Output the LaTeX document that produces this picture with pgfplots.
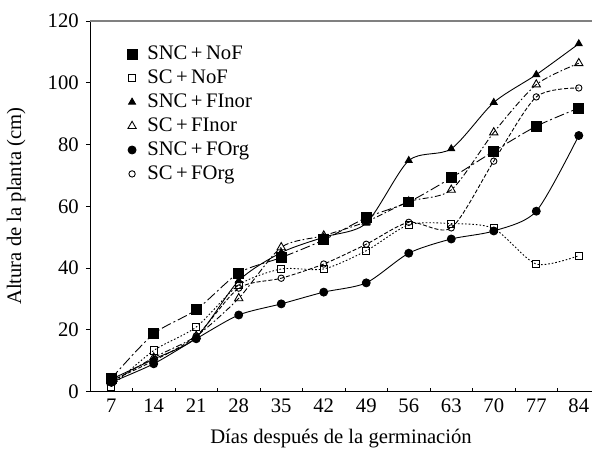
\documentclass[border=0pt]{standalone}
\usepackage{fontspec}
\setmainfont{Liberation Serif}
\usepackage{pgfplots}
\pgfplotsset{compat=1.18}

\begin{document}
\fontsize{10.4}{12.5}\selectfont
\begin{tikzpicture}
  \begin{axis}[
    scale only axis,
    width=252bp, height=186bp,
    xmin=3.5, xmax=86.2,
    ymin=0, ymax=120,
    axis x line*=bottom,
    axis y line*=left,
    xtick={10.5,17.5,...,80.5},
    xticklabels={},
    xtick align=inside,
    extra x ticks={7,14,...,84},
    extra x tick style={major tick length=0pt},
    ytick={0,20,...,120},
    ytick align=outside,
    major tick length=2bp,
    tick style={black, line width=0.4pt},
    /pgf/number format/assume math mode=true,
    tick label style={font=\fontsize{10.4}{12.5}\selectfont},
    xlabel={Días después de la germinación},
    ylabel={Altura de la planta (cm)},
    label style={font=\fontsize{10.4}{12.5}\selectfont},
    xlabel style={yshift=-1pt},
    ylabel style={yshift=4pt},
    legend style={draw=none, fill=none, at={(0.06,0.955)}, anchor=north west,
      font=\fontsize{10.4}{12.5}\selectfont, row sep=-0.4pt, cells={anchor=west}},
    legend image code/.code={\draw[#1, only marks] plot coordinates {(0.1cm,0cm)};
      \path[draw=none, fill=none] (0,0) -- (0.3cm,0);},
    every axis plot/.append style={black, line width=0.45pt, smooth, tension=0.45},
  ]
  \draw[gray, line width=0.6pt] (rel axis cs:0,1) -- (rel axis cs:1,1);

  \addplot[dash pattern=on 5bp off 1.5bp on 1bp off 1.5bp, mark=square*, mark size=2.5bp,
    mark options={solid, fill=black}]
    coordinates {(7,4.2)(14,18.7)(21,26.5)(28,38.4)(35,43.4)(42,49.1)(49,56.3)(56,61.4)(63,69.2)(70,77.8)(77,85.9)(84,91.8)};
  \addlegendentry{SNC\,+\,NoF}

  \addplot[dash pattern=on 0.8bp off 1bp, mark=square, mark size=1.8bp,
    mark options={solid, fill=white}]
    coordinates {(7,1.6)(14,13.3)(21,20.9)(28,34.5)(35,39.7)(42,39.7)(49,45.6)(56,54.0)(63,54.4)(70,52.8)(77,41.3)(84,44.0)};
  \addlegendentry{SC\,+\,NoF}

  \addplot[solid, mark=triangle*, mark size=2bp, mark options={solid, fill=black}]
    coordinates {(7,4.0)(14,10.5)(21,17.5)(28,35.9)(35,45.0)(42,50.0)(49,54.5)(56,74.8)(63,78.6)(70,93.6)(77,102.6)(84,112.6)};
  \addlegendentry{SNC\,+\,FInor}

  \addplot[dash pattern=on 3bp off 1.2bp on 0.8bp off 1.2bp, mark=triangle, mark size=2.4bp,
    mark options={solid, fill=white}]
    coordinates {(7,3.0)(14,11.0)(21,18.0)(28,30.2)(35,46.7)(42,50.5)(49,55.0)(56,61.5)(63,65.3)(70,83.9)(77,99.4)(84,106.3)};
  \addlegendentry{SC\,+\,FInor}

  \addplot[solid, mark=*, mark size=2bp, mark options={solid, fill=black}]
    coordinates {(7,3.0)(14,9.0)(21,17.1)(28,24.8)(35,28.4)(42,32.2)(49,35.2)(56,44.8)(63,49.4)(70,52.0)(77,58.4)(84,82.9)};
  \addlegendentry{SNC\,+\,FOrg}

  \addplot[dash pattern=on 2bp off 1bp, mark=o, mark size=1.6bp,
    mark options={solid, fill=white}]
    coordinates {(7,3.5)(14,10.0)(21,18.0)(28,33.5)(35,36.7)(42,41.3)(49,47.7)(56,54.8)(63,53.0)(70,74.6)(77,95.4)(84,98.3)};
  \addlegendentry{SC\,+\,FOrg}
  \end{axis}
  \path (current axis.north west) ++(0,10.5bp) coordinate (top);
\end{tikzpicture}
\end{document}
